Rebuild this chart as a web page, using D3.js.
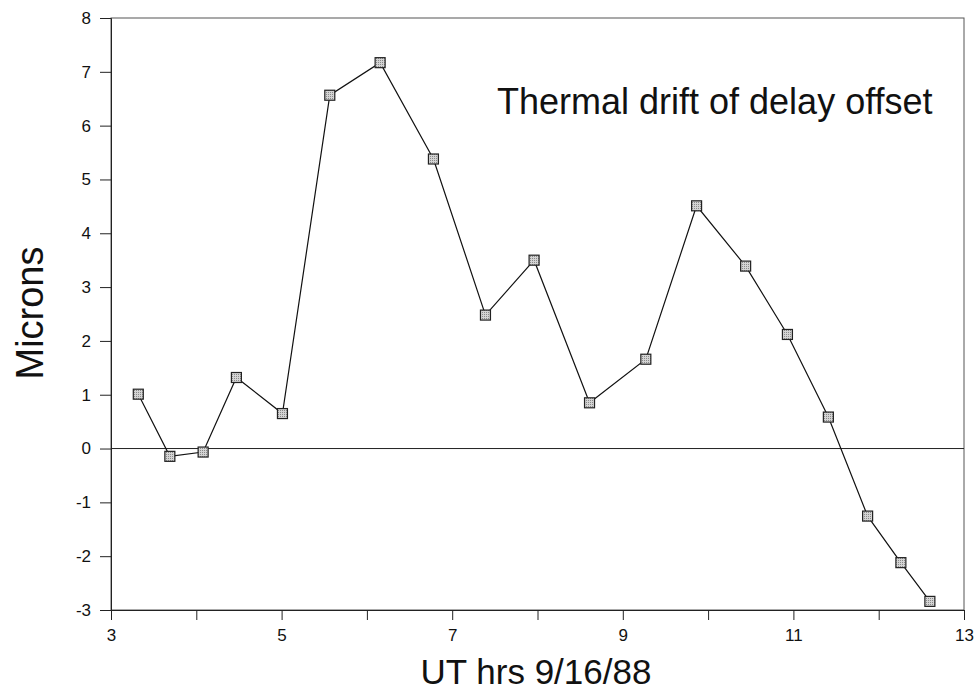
<!DOCTYPE html>
<html>
<head>
<meta charset="utf-8">
<script src="https://cdn.jsdelivr.net/npm/d3@7"></script>
<style>
html,body{margin:0;padding:0;background:#fff;}
svg{display:block;font-family:"Liberation Sans",Arial,sans-serif;}
</style>
</head>
<body>
<svg id="chart" width="977" height="696"></svg>
<script>
const hours = [3.32, 3.69, 4.08, 4.47, 5.01, 5.565, 6.155, 6.78, 7.39, 7.96, 8.61, 9.27, 9.865, 10.44, 10.93, 11.41, 11.87, 12.26, 12.60];
const microns = [1.01, -0.145, -0.065, 1.32, 0.65, 6.565, 7.17, 5.38, 2.48, 3.50, 0.85, 1.66, 4.51, 3.39, 2.12, 0.585, -1.255, -2.12, -2.84];
const xTicks = [3, 4, 5, 6, 7, 8, 9, 10, 11, 12, 13];
const xTickLabels = ["3", "", "5", "", "7", "", "9", "", "11", "", "13"];
const yTicks = [-3, -2, -1, 0, 1, 2, 3, 4, 5, 6, 7, 8];
const yTickLabels = ["-3", "-2", "-1", "0", "1", "2", "3", "4", "5", "6", "7", "8"];
const title = "Thermal drift of delay offset";
const xTitle = "UT hrs 9/16/88";
const yTitle = "Microns";

const svg = d3.select("#chart");
const L = 111, R = 964, T = 18, B = 610;
const x = d3.scaleLinear().domain([3, 13]).range([L, R]);
const y = d3.scaleLinear().domain([-3, 8]).range([B, T]);

// stipple pattern
const defs = svg.append("defs");
const pat = defs.append("pattern").attr("id", "stip").attr("width", 2).attr("height", 2).attr("patternUnits", "userSpaceOnUse");
pat.append("rect").attr("width", 2).attr("height", 2).attr("fill", "#d4d4d4");
pat.append("rect").attr("width", 1).attr("height", 1).attr("fill", "#8a8a8a");

// frame
svg.append("rect").attr("x", L).attr("y", T).attr("width", R - L).attr("height", B - T)
  .attr("fill", "none").attr("stroke", "#555").attr("stroke-width", 1);

// axes
const xAxis = d3.axisBottom(x).tickValues(xTicks).tickSize(10).tickPadding(9)
  .tickFormat((d, i) => xTickLabels[i]);
const gx = svg.append("g").attr("transform", `translate(0,${B})`).call(xAxis);
const yAxis = d3.axisLeft(y).tickValues(yTicks).tickSize(11).tickPadding(9)
  .tickFormat((d, i) => yTickLabels[i]);
const gy = svg.append("g").attr("transform", `translate(${L},0)`).call(yAxis);
[gx, gy].forEach(g => {
  g.attr("font-size", 17).attr("font-family", "Liberation Sans, Arial, sans-serif");
  g.select(".domain").attr("stroke", "#222");
  g.selectAll(".tick line").attr("stroke", "#222");
  g.selectAll(".tick text").attr("fill", "#111");
});

// zero line
svg.append("line").attr("x1", L).attr("x2", R).attr("y1", y(0)).attr("y2", y(0))
  .attr("stroke", "#222").attr("stroke-width", 1);

// data line
const pts = hours.map((h, i) => [h, microns[i]]);
svg.append("path").datum(pts)
  .attr("d", d3.line().x(d => x(d[0])).y(d => y(d[1])))
  .attr("fill", "none").attr("stroke", "#111").attr("stroke-width", 1.2);

// markers
const s = 10;
svg.selectAll("rect.pt").data(pts).enter().append("rect").attr("class", "pt")
  .attr("x", d => x(d[0]) - s / 2).attr("y", d => y(d[1]) - s / 2)
  .attr("width", s).attr("height", s)
  .attr("fill", "url(#stip)").attr("stroke", "#222").attr("stroke-width", 1.2);

// title
svg.append("text").attr("x", 497).attr("y", 114).text(title)
  .attr("font-size", 36).attr("fill", "#111");

// axis titles
svg.append("text").attr("x", 536).attr("y", 684).attr("text-anchor", "middle")
  .text(xTitle).attr("font-size", 35).attr("fill", "#111");
svg.append("text").attr("transform", `translate(43,313) rotate(-90)`)
  .attr("text-anchor", "middle").text(yTitle).attr("font-size", 38).attr("fill", "#111");
</script>
</body>
</html>
